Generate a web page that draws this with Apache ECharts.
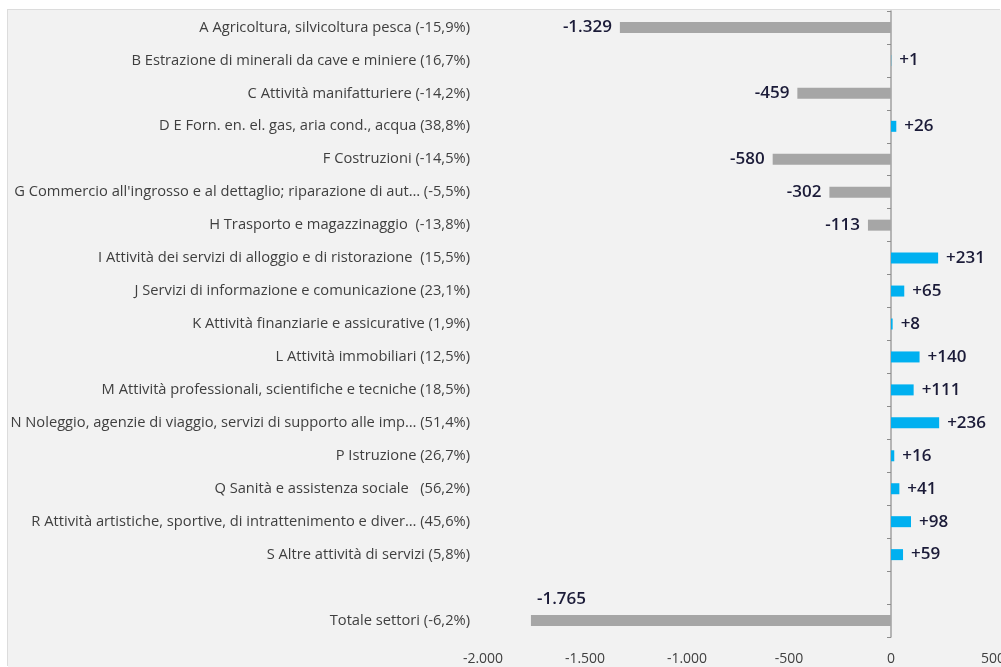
<!DOCTYPE html>
<html>
<head>
<meta charset="utf-8">
<script src="https://cdn.jsdelivr.net/npm/echarts@6/dist/echarts.min.js"></script>
<style>
  html, body { margin: 0; padding: 0; background: #ffffff; overflow: hidden; }
  #main {
    position: absolute;
    left: 8px;
    top: 10px;
    width: 993px;
    height: 657px;
    background: #f2f2f2;
    box-shadow: -1px -1px 0 #dcdcdc;
  }
</style>
</head>
<body>
<div id="main"></div>
<script>
// settori (il vuoto separa il totale)
var categories = [
  "A Agricoltura, silvicoltura pesca (-15,9%)",
  "B Estrazione di minerali da cave e miniere (16,7%)",
  "C Attività manifatturiere (-14,2%)",
  "D E Forn. en. el. gas, aria cond., acqua (38,8%)",
  "F Costruzioni (-14,5%)",
  "G Commercio all'ingrosso e al dettaglio; riparazione di aut… (-5,5%)",
  "H Trasporto e magazzinaggio  (-13,8%)",
  "I Attività dei servizi di alloggio e di ristorazione  (15,5%)",
  "J Servizi di informazione e comunicazione (23,1%)",
  "K Attività finanziarie e assicurative (1,9%)",
  "L Attività immobiliari (12,5%)",
  "M Attività professionali, scientifiche e tecniche (18,5%)",
  "N Noleggio, agenzie di viaggio, servizi di supporto alle imp… (51,4%)",
  "P Istruzione (26,7%)",
  "Q Sanità e assistenza sociale   (56,2%)",
  "R Attività artistiche, sportive, di intrattenimento e diver… (45,6%)",
  "S Altre attività di servizi (5,8%)",
  "",
  "Totale settori (-6,2%)"
];
var values = [-1329, 1, -459, 26, -580, -302, -113, 231, 65, 8, 140, 111, 236, 16, 41, 98, 59, null, -1765];
var totalName = "Totale settori (-6,2%)";

var xMin = -2000, xMax = 500, xStep = 500;

// formato italiano: punto per le migliaia
function fmt(v) {
  var s = Math.abs(v).toString().replace(/\B(?=(\d{3})+(?!\d))/g, ".");
  return (v < 0 ? "-" : "") + s;
}

var myChart = echarts.init(document.getElementById("main"));

var barData = values.map(function (v, i) {
  if (v === null) return { value: null };
  var item = {
    value: v,
    itemStyle: { color: v < 0 ? "#a6a6a6" : "#00b0f0" },
    label: { position: v < 0 ? "left" : "right" }
  };
  if (categories[i] === totalName) {
    // etichetta del totale sopra la barra
    item.label = { position: "insideLeft", distance: 6, offset: [0, -21] };
  }
  return item;
});

var option = {
  animation: false,
  grid: { left: 475, right: 8, top: 1, bottom: 30, containLabel: false, outerBoundsMode: "none" },
  xAxis: {
    type: "value",
    min: xMin,
    max: xMax,
    interval: xStep,
    axisLine: { show: false },
    axisTick: { show: false },
    splitLine: { show: false },
    axisLabel: {
      color: "#404040",
      fontFamily: "Open Sans",
      fontSize: 14,
      margin: 15,
      hideOverlap: false,
      formatter: function (v) { return fmt(v); }
    }
  },
  yAxis: [
    {
      // etichette dei settori
      type: "category",
      inverse: true,
      data: categories,
      axisLine: { show: false, onZero: false },
      axisTick: { show: false },
      axisLabel: {
        color: "#3f3f3f",
        fontFamily: "Open Sans",
        fontSize: 14.7,
        margin: 13
      }
    },
    {
      // asse sullo zero con le tacche
      type: "category",
      inverse: true,
      position: "left",
      data: categories,
      axisLine: { show: true, onZero: true, lineStyle: { color: "#a0a0a0", width: 1.5 } },
      axisTick: { show: true, length: 4, lineStyle: { color: "#8c8c8c" } },
      axisLabel: { show: false }
    }
  ],
  series: [
    {
      type: "bar",
      yAxisIndex: 0,
      barWidth: 11,
      data: barData,
      label: {
        show: true,
        distance: 8,
        color: "#1b1b38",
        fontFamily: "Open Sans",
        fontWeight: 600,
        fontSize: 17,
        formatter: function (p) {
          return p.value > 0 ? "+" + fmt(p.value) : fmt(p.value);
        }
      }
    }
  ]
};

myChart.setOption(option);
</script>
</body>
</html>
